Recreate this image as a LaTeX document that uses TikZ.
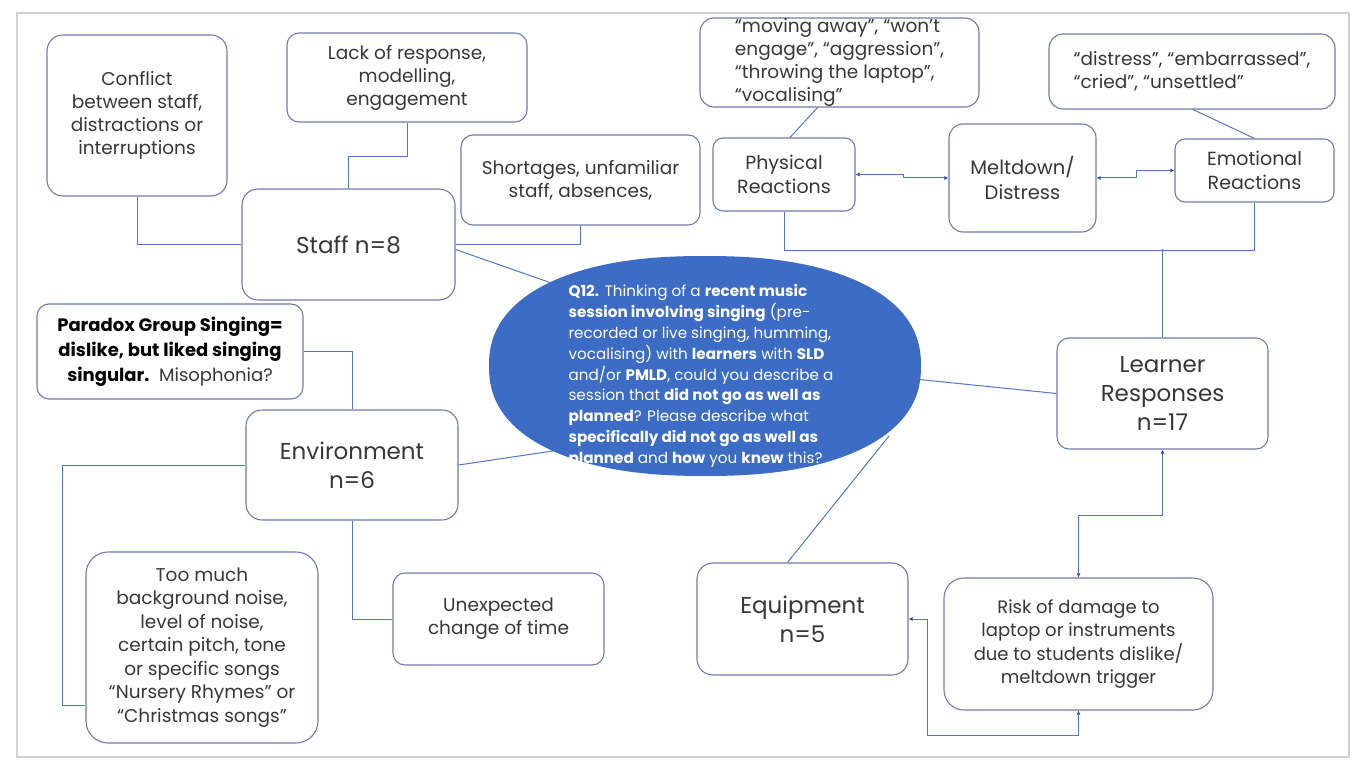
\documentclass[tikz,border=0pt]{standalone}
\usepackage{fontspec}
\setmainfont{Poppins}
\usetikzlibrary{arrows.meta,calc,shapes.geometric}
\definecolor{boxc}{RGB}{112,124,176}
\definecolor{linec}{RGB}{84,118,200}
\definecolor{tipc}{RGB}{60,75,165}
\definecolor{txt}{RGB}{55,55,55}
\definecolor{qblue}{RGB}{60,108,196}
\tikzset{
  box/.style={draw=boxc, line width=1.1pt, rounded corners=16pt, align=center, text=txt, inner sep=0pt,
    font=\fontsize{18.5}{23}\selectfont},
  bigbox/.style={box, font=\fontsize{23}{29}\selectfont},
  conn/.style={draw=linec, line width=1pt},
  dconn/.style={conn, {Latex[length=4pt,width=4pt,color=tipc]}-{Latex[length=4pt,width=4pt,color=tipc]}},
}
\begin{document}
\begin{tikzpicture}[x=1pt,y=-1pt]
\useasboundingbox (0,0) rectangle (1354,762);
\fill[white] (0,0) rectangle (1354,762);
\draw[black!18, line width=1.5pt] (17,13) rectangle (1349,757);

\coordinate (q) at (705,366);

% staff cluster
\node[box, minimum width=180pt, minimum height=161pt] (conflict) at (137,115.5) {Conflict\\between staff,\\distractions or\\interruptions};
\node[box, minimum width=240pt, minimum height=89pt, rounded corners=12pt] (lack) at (407,77.5) {Lack of response,\\modelling,\\engagement};
\node[box, minimum width=239pt, minimum height=90pt, rounded corners=12pt] (short) at (580.5,180) {Shortages, unfamiliar\\staff, absences,};
\node[bigbox, minimum width=213pt, minimum height=111pt] (staff) at (348.5,244.5) {Staff n=8};

% environment cluster
\node[box, minimum width=266pt, minimum height=95pt, rounded corners=12pt, text=black, font=\fontsize{18}{25}\selectfont] (paradox) at (170,351.5)
  {\textbf{Paradox Group Singing=}\\\textbf{dislike, but liked singing}\\\textbf{singular.}\ \ {\color{txt}Misophonia?}};
\node[bigbox, minimum width=212pt, minimum height=110pt] (env) at (352,465) {Environment\\n=6};
\node[box, minimum width=232pt, minimum height=191pt, rounded corners=22pt, font=\fontsize{18.5}{23.5}\selectfont] (toomuch) at (202,647.5)
  {Too much\\background noise,\\level of noise,\\certain pitch, tone\\or specific songs\\“Nursery Rhymes” or\\“Christmas songs”};
\node[box, minimum width=211pt, minimum height=92pt, rounded corners=12pt] (unexp) at (498.5,619) {Unexpected\\change of time};

% equipment / learner
\node[bigbox, minimum width=211pt, minimum height=112pt] (equip) at (802.5,619) {Equipment\\n=5};
\node[box, minimum width=269pt, minimum height=132pt, rounded corners=20pt, font=\fontsize{18}{23.5}\selectfont] (risk) at (1078.5,644)
  {Risk of damage to\\laptop or instruments\\due to students dislike/\\meltdown trigger};
\node[bigbox, minimum width=211pt, minimum height=111pt, rounded corners=12pt] (learner) at (1162.5,393.5) {Learner\\Responses\\n=17};

% reactions
\node[box, minimum width=142pt, minimum height=73pt, rounded corners=10pt, font=\fontsize{19}{24}\selectfont] (phys) at (784,174.5) {Physical\\Reactions};
\node[box, minimum width=147pt, minimum height=108pt, rounded corners=14pt, font=\fontsize{19.5}{25}\selectfont] (melt) at (1022.5,178) {Meltdown/\\Distress};
\node[box, minimum width=159pt, minimum height=63pt, rounded corners=10pt, font=\fontsize{19}{24}\selectfont] (emo) at (1254.5,170.5) {Emotional\\Reactions};
\node[box, minimum width=279pt, minimum height=89pt, rounded corners=14pt, align=left] (pquote) at (839.5,62.5)
  {“moving away”, “won’t\\engage”, “aggression”,\\“throwing the laptop”,\\“vocalising”};
\node[box, minimum width=286pt, minimum height=75pt, rounded corners=14pt, align=left] (dquote) at (1192,71.5)
  {“distress”, “embarrassed”,\\“cried”, “unsettled”};

% connectors
\draw[conn] (conflict.south) |- (staff.west);
\draw[conn] (lack.south) -- ++(0,34) -| (staff.north);
\draw[conn] (short.south) |- (staff.east);
\draw[conn] ([yshift=-5pt]staff.east) -- ($(q)+(-85,-59)$);
\draw[conn] (paradox.east) -| (env.north);
\draw[conn] (env.west) -| ($(toomuch.west)+(-23,58)$) -- ($(toomuch.west)+(0,58)$);
\draw[conn] (env.south) |- (unexp.west);
\draw[conn] (env.east) -- ($(q)+(-85,75)$);
\draw[conn] ($(q)+(184,70)$) -- ([xshift=-15pt]equip.north);
\draw[conn] ($(q)+(180,10)$) -- (learner.west);
\draw[conn] (phys.south) -- ++(0,39) -| (emo.south);
\draw[conn] (learner.north) -- ++(0,-88);
\draw[conn] ([xshift=-22pt]pquote.south) -- ([xshift=6pt]phys.north);
\draw[conn] ([xshift=1pt]dquote.south) -- (emo.north);
\draw[dconn] (phys.east) -- ++(48,0) |- (melt.west);
\draw[dconn] (melt.east) -- ++(40,0) |- (emo.west);
\draw[dconn] (learner.south) -- ++(0,66) -| (risk.north);
\draw[dconn] (risk.south) -- ++(0,25) -| ([xshift=19pt]equip.east) -- (equip.east);

% centre (super-ellipse drawn over the connector ends)
\fill[qblue] plot[domain=0:360, samples=240, variable=\t]
  ({705+216*cos(\t)*(abs(cos(\t))+0.0001)^(-0.13)}, {366+110*sin(\t)*(abs(sin(\t))+0.0001)^(-0.13)}) -- cycle;
\node[text=white, align=left, inner sep=0pt, font=\fontsize{15.2}{20.9}\selectfont] (qt) at (701,376)
  {\textbf{Q12.} Thinking of a \textbf{recent music}\\
   \textbf{session involving singing} (pre-\\
   recorded or live singing, humming,\\
   vocalising) with \textbf{learners} with \textbf{SLD}\\
   and/or \textbf{PMLD}, could you describe a\\
   session that \textbf{did not go as well as}\\
   \textbf{planned}? Please describe what\\
   \textbf{specifically did not go as well as}\\
   \textbf{planned} and \textbf{how} you \textbf{knew} this?};
\end{tikzpicture}
\end{document}
